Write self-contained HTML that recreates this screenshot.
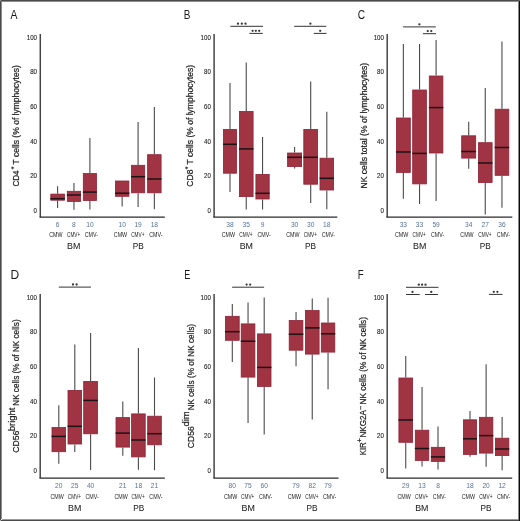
<!DOCTYPE html>
<html><head><meta charset="utf-8"><style>
html,body{margin:0;padding:0;background:#fff;}
body{width:520px;height:521px;overflow:hidden;}
svg{display:block;font-family:"Liberation Sans", sans-serif;will-change:transform;}
</style></head><body>
<svg width="520" height="521" viewBox="0 0 520 521">
<rect x="0" y="0" width="520" height="521" fill="#fff"/>
<text transform="translate(10.44 18.5) scale(0.867 1)" font-size="12" fill="#1a1a1a">A</text>
<path d="M40.3 34V217.2" fill="none" stroke="#454545" stroke-width="1.5"/>
<path d="M39.55 217.2H164.8" fill="none" stroke="#2a2a2a" stroke-width="1.3"/>
<text x="37" y="39.55" font-size="8" text-anchor="end" textLength="10.21" lengthAdjust="spacingAndGlyphs" fill="#222222" stroke="#222222" stroke-width="0.12">100</text>
<text x="37" y="74.21" font-size="8" text-anchor="end" textLength="6.81" lengthAdjust="spacingAndGlyphs" fill="#222222" stroke="#222222" stroke-width="0.12">80</text>
<text x="37" y="108.87" font-size="8" text-anchor="end" textLength="6.81" lengthAdjust="spacingAndGlyphs" fill="#222222" stroke="#222222" stroke-width="0.12">60</text>
<text x="37" y="143.53" font-size="8" text-anchor="end" textLength="6.81" lengthAdjust="spacingAndGlyphs" fill="#222222" stroke="#222222" stroke-width="0.12">40</text>
<text x="37" y="178.19" font-size="8" text-anchor="end" textLength="6.81" lengthAdjust="spacingAndGlyphs" fill="#222222" stroke="#222222" stroke-width="0.12">20</text>
<text x="37" y="212.85" font-size="8" text-anchor="end" textLength="3.4" lengthAdjust="spacingAndGlyphs" fill="#222222" stroke="#222222" stroke-width="0.12">0</text>
<line x1="57.6" y1="186.3" x2="57.6" y2="193.7" stroke="#4a4a4a" stroke-width="1.1"/>
<line x1="57.6" y1="200.6" x2="57.6" y2="207.9" stroke="#4a4a4a" stroke-width="1.1"/>
<rect x="50.8" y="194.1" width="13.6" height="6.1" fill="#a03443" stroke="#8e2236" stroke-width="0.8"/>
<line x1="50.4" y1="198.7" x2="64.8" y2="198.7" stroke="#1e1214" stroke-width="1.5"/>
<text x="57.6" y="226.8" font-size="8" text-anchor="middle" textLength="3.69" lengthAdjust="spacingAndGlyphs" fill="#56709c">6</text>
<text x="55.9" y="236.6" font-size="6.6" text-anchor="middle" textLength="13.3" lengthAdjust="spacingAndGlyphs" fill="#222222">CMW</text>
<line x1="73.95" y1="183" x2="73.95" y2="190.9" stroke="#4a4a4a" stroke-width="1.1"/>
<line x1="73.95" y1="201.8" x2="73.95" y2="209.8" stroke="#4a4a4a" stroke-width="1.1"/>
<rect x="67.3" y="191.3" width="13.3" height="10.1" fill="#a03443" stroke="#8e2236" stroke-width="0.8"/>
<line x1="66.9" y1="195" x2="81" y2="195" stroke="#1e1214" stroke-width="1.5"/>
<text x="73.95" y="226.8" font-size="8" text-anchor="middle" textLength="3.69" lengthAdjust="spacingAndGlyphs" fill="#56709c">8</text>
<text x="73.65" y="236.6" font-size="6.6" text-anchor="middle" textLength="13.3" lengthAdjust="spacingAndGlyphs" fill="#222222">CMV+</text>
<line x1="89.9" y1="138" x2="89.9" y2="173.1" stroke="#4a4a4a" stroke-width="1.1"/>
<line x1="89.9" y1="200.9" x2="89.9" y2="209.5" stroke="#4a4a4a" stroke-width="1.1"/>
<rect x="83.3" y="173.5" width="13.2" height="27" fill="#a03443" stroke="#8e2236" stroke-width="0.8"/>
<line x1="82.9" y1="192.1" x2="96.9" y2="192.1" stroke="#1e1214" stroke-width="1.5"/>
<text x="89.9" y="226.8" font-size="8" text-anchor="middle" textLength="7.38" lengthAdjust="spacingAndGlyphs" fill="#56709c">10</text>
<text x="91.4" y="236.6" font-size="6.6" text-anchor="middle" textLength="13.3" lengthAdjust="spacingAndGlyphs" fill="#222222">CMV-</text>
<line x1="122.15" y1="196.7" x2="122.15" y2="206.4" stroke="#4a4a4a" stroke-width="1.1"/>
<rect x="115.4" y="181" width="13.5" height="15.3" fill="#a03443" stroke="#8e2236" stroke-width="0.8"/>
<line x1="115" y1="193.2" x2="129.3" y2="193.2" stroke="#1e1214" stroke-width="1.5"/>
<text x="122.15" y="226.8" font-size="8" text-anchor="middle" textLength="7.38" lengthAdjust="spacingAndGlyphs" fill="#56709c">10</text>
<text x="120.45" y="236.6" font-size="6.6" text-anchor="middle" textLength="13.3" lengthAdjust="spacingAndGlyphs" fill="#222222">CMW</text>
<line x1="138.1" y1="121.9" x2="138.1" y2="164.9" stroke="#4a4a4a" stroke-width="1.1"/>
<line x1="138.1" y1="193.2" x2="138.1" y2="207" stroke="#4a4a4a" stroke-width="1.1"/>
<rect x="131.5" y="165.3" width="13.2" height="27.5" fill="#a03443" stroke="#8e2236" stroke-width="0.8"/>
<line x1="131.1" y1="176.7" x2="145.1" y2="176.7" stroke="#1e1214" stroke-width="1.5"/>
<text x="138.1" y="226.8" font-size="8" text-anchor="middle" textLength="7.38" lengthAdjust="spacingAndGlyphs" fill="#56709c">19</text>
<text x="137.8" y="236.6" font-size="6.6" text-anchor="middle" textLength="13.3" lengthAdjust="spacingAndGlyphs" fill="#222222">CMV+</text>
<line x1="154.35" y1="106.9" x2="154.35" y2="154.3" stroke="#4a4a4a" stroke-width="1.1"/>
<line x1="154.35" y1="193.2" x2="154.35" y2="209.3" stroke="#4a4a4a" stroke-width="1.1"/>
<rect x="147.6" y="154.7" width="13.5" height="38.1" fill="#a03443" stroke="#8e2236" stroke-width="0.8"/>
<line x1="147.2" y1="179" x2="161.5" y2="179" stroke="#1e1214" stroke-width="1.5"/>
<text x="154.35" y="226.8" font-size="8" text-anchor="middle" textLength="7.38" lengthAdjust="spacingAndGlyphs" fill="#56709c">18</text>
<text x="155.85" y="236.6" font-size="6.6" text-anchor="middle" textLength="13.3" lengthAdjust="spacingAndGlyphs" fill="#222222">CMV-</text>
<text x="73.65" y="248.7" font-size="9.2" text-anchor="middle" textLength="13.3" lengthAdjust="spacingAndGlyphs" fill="#222222" stroke="#222222" stroke-width="0.05">BM</text>
<text x="138.25" y="248.7" font-size="9.2" text-anchor="middle" textLength="11.0" lengthAdjust="spacingAndGlyphs" fill="#222222" stroke="#222222" stroke-width="0.05">PB</text>
<text transform="translate(19.3 186.61) rotate(-90)" font-size="8.8" textLength="16.25" lengthAdjust="spacingAndGlyphs" fill="#222222" stroke="#222222" stroke-width="0.22">CD4</text>
<text transform="translate(14.03 169.46) rotate(-90)" font-size="4.6" textLength="3.13" lengthAdjust="spacingAndGlyphs" fill="#222222" stroke="#222222" stroke-width="0.22">+</text>
<text transform="translate(19.3 164.49) rotate(-90)" font-size="8.8" textLength="99.32" lengthAdjust="spacingAndGlyphs" fill="#222222" stroke="#222222" stroke-width="0.22">T cells (% of lymphocytes)</text>
<text transform="translate(183.78 18.5) scale(0.83 1)" font-size="12" fill="#1a1a1a">B</text>
<path d="M214.1 34V217.2" fill="none" stroke="#454545" stroke-width="1.5"/>
<path d="M213.35 217.2H337.3" fill="none" stroke="#2a2a2a" stroke-width="1.3"/>
<text x="210.8" y="39.55" font-size="8" text-anchor="end" textLength="10.21" lengthAdjust="spacingAndGlyphs" fill="#222222" stroke="#222222" stroke-width="0.12">100</text>
<text x="210.8" y="74.21" font-size="8" text-anchor="end" textLength="6.81" lengthAdjust="spacingAndGlyphs" fill="#222222" stroke="#222222" stroke-width="0.12">80</text>
<text x="210.8" y="108.87" font-size="8" text-anchor="end" textLength="6.81" lengthAdjust="spacingAndGlyphs" fill="#222222" stroke="#222222" stroke-width="0.12">60</text>
<text x="210.8" y="143.53" font-size="8" text-anchor="end" textLength="6.81" lengthAdjust="spacingAndGlyphs" fill="#222222" stroke="#222222" stroke-width="0.12">40</text>
<text x="210.8" y="178.19" font-size="8" text-anchor="end" textLength="6.81" lengthAdjust="spacingAndGlyphs" fill="#222222" stroke="#222222" stroke-width="0.12">20</text>
<text x="210.8" y="212.85" font-size="8" text-anchor="end" textLength="3.4" lengthAdjust="spacingAndGlyphs" fill="#222222" stroke="#222222" stroke-width="0.12">0</text>
<line x1="230" y1="83" x2="230" y2="129" stroke="#4a4a4a" stroke-width="1.1"/>
<line x1="230" y1="173.6" x2="230" y2="192.1" stroke="#4a4a4a" stroke-width="1.1"/>
<rect x="223.4" y="129.4" width="13.2" height="43.8" fill="#a03443" stroke="#8e2236" stroke-width="0.8"/>
<line x1="223" y1="144.3" x2="237" y2="144.3" stroke="#1e1214" stroke-width="1.5"/>
<text x="230" y="226.8" font-size="8" text-anchor="middle" textLength="7.38" lengthAdjust="spacingAndGlyphs" fill="#56709c">38</text>
<text x="228.3" y="236.6" font-size="6.6" text-anchor="middle" textLength="13.3" lengthAdjust="spacingAndGlyphs" fill="#222222">CMW</text>
<line x1="246.25" y1="62.5" x2="246.25" y2="111" stroke="#4a4a4a" stroke-width="1.1"/>
<line x1="246.25" y1="197" x2="246.25" y2="209.6" stroke="#4a4a4a" stroke-width="1.1"/>
<rect x="239.4" y="111.4" width="13.7" height="85.2" fill="#a03443" stroke="#8e2236" stroke-width="0.8"/>
<line x1="239" y1="148.9" x2="253.5" y2="148.9" stroke="#1e1214" stroke-width="1.5"/>
<text x="246.25" y="226.8" font-size="8" text-anchor="middle" textLength="7.38" lengthAdjust="spacingAndGlyphs" fill="#56709c">35</text>
<text x="245.95" y="236.6" font-size="6.6" text-anchor="middle" textLength="13.3" lengthAdjust="spacingAndGlyphs" fill="#222222">CMV+</text>
<line x1="262.55" y1="136.9" x2="262.55" y2="174" stroke="#4a4a4a" stroke-width="1.1"/>
<line x1="262.55" y1="199.4" x2="262.55" y2="209.6" stroke="#4a4a4a" stroke-width="1.1"/>
<rect x="255.9" y="174.4" width="13.3" height="24.6" fill="#a03443" stroke="#8e2236" stroke-width="0.8"/>
<line x1="255.5" y1="193.3" x2="269.6" y2="193.3" stroke="#1e1214" stroke-width="1.5"/>
<text x="262.55" y="226.8" font-size="8" text-anchor="middle" textLength="3.69" lengthAdjust="spacingAndGlyphs" fill="#56709c">9</text>
<text x="264.05" y="236.6" font-size="6.6" text-anchor="middle" textLength="13.3" lengthAdjust="spacingAndGlyphs" fill="#222222">CMV-</text>
<line x1="294.6" y1="146.9" x2="294.6" y2="152.6" stroke="#4a4a4a" stroke-width="1.1"/>
<line x1="294.6" y1="167" x2="294.6" y2="168.5" stroke="#4a4a4a" stroke-width="1.1"/>
<rect x="287.6" y="153" width="14" height="13.6" fill="#a03443" stroke="#8e2236" stroke-width="0.8"/>
<line x1="287.2" y1="157.3" x2="302" y2="157.3" stroke="#1e1214" stroke-width="1.5"/>
<text x="294.6" y="226.8" font-size="8" text-anchor="middle" textLength="7.38" lengthAdjust="spacingAndGlyphs" fill="#56709c">30</text>
<text x="292.9" y="236.6" font-size="6.6" text-anchor="middle" textLength="13.3" lengthAdjust="spacingAndGlyphs" fill="#222222">CMW</text>
<line x1="310.7" y1="81.5" x2="310.7" y2="129" stroke="#4a4a4a" stroke-width="1.1"/>
<line x1="310.7" y1="184.6" x2="310.7" y2="202.9" stroke="#4a4a4a" stroke-width="1.1"/>
<rect x="303.8" y="129.4" width="13.8" height="54.8" fill="#a03443" stroke="#8e2236" stroke-width="0.8"/>
<line x1="303.4" y1="157.3" x2="318" y2="157.3" stroke="#1e1214" stroke-width="1.5"/>
<text x="310.7" y="226.8" font-size="8" text-anchor="middle" textLength="7.38" lengthAdjust="spacingAndGlyphs" fill="#56709c">30</text>
<text x="310.4" y="236.6" font-size="6.6" text-anchor="middle" textLength="13.3" lengthAdjust="spacingAndGlyphs" fill="#222222">CMV+</text>
<line x1="326.8" y1="111.7" x2="326.8" y2="157.8" stroke="#4a4a4a" stroke-width="1.1"/>
<line x1="326.8" y1="190.4" x2="326.8" y2="209.2" stroke="#4a4a4a" stroke-width="1.1"/>
<rect x="320" y="158.2" width="13.6" height="31.8" fill="#a03443" stroke="#8e2236" stroke-width="0.8"/>
<line x1="319.6" y1="178.3" x2="334" y2="178.3" stroke="#1e1214" stroke-width="1.5"/>
<text x="326.8" y="226.8" font-size="8" text-anchor="middle" textLength="7.38" lengthAdjust="spacingAndGlyphs" fill="#56709c">18</text>
<text x="328.3" y="236.6" font-size="6.6" text-anchor="middle" textLength="13.3" lengthAdjust="spacingAndGlyphs" fill="#222222">CMV-</text>
<text x="246.3" y="248.7" font-size="9.2" text-anchor="middle" textLength="13.3" lengthAdjust="spacingAndGlyphs" fill="#222222" stroke="#222222" stroke-width="0.05">BM</text>
<text x="310.6" y="248.7" font-size="9.2" text-anchor="middle" textLength="11.0" lengthAdjust="spacingAndGlyphs" fill="#222222" stroke="#222222" stroke-width="0.05">PB</text>
<line x1="230.3" y1="26.3" x2="263" y2="26.3" stroke="#333" stroke-width="1"/>
<circle cx="238" cy="23.7" r="1.15" fill="#3a3a3a"/>
<circle cx="241.8" cy="23.7" r="1.15" fill="#3a3a3a"/>
<circle cx="245.5" cy="23.7" r="1.15" fill="#3a3a3a"/>
<line x1="249.4" y1="33.4" x2="262.8" y2="33.4" stroke="#333" stroke-width="1"/>
<circle cx="252.6" cy="30.8" r="1.15" fill="#3a3a3a"/>
<circle cx="255.8" cy="30.8" r="1.15" fill="#3a3a3a"/>
<circle cx="259.2" cy="30.8" r="1.15" fill="#3a3a3a"/>
<line x1="294.2" y1="26.3" x2="326.3" y2="26.3" stroke="#333" stroke-width="1"/>
<circle cx="310.4" cy="23.7" r="1.15" fill="#3a3a3a"/>
<line x1="313.8" y1="33.4" x2="326.5" y2="33.4" stroke="#333" stroke-width="1"/>
<circle cx="320.2" cy="30.8" r="1.15" fill="#3a3a3a"/>
<text transform="translate(192.7 186.63) rotate(-90)" font-size="8.8" textLength="17.11" lengthAdjust="spacingAndGlyphs" fill="#222222" stroke="#222222" stroke-width="0.22">CD8</text>
<text transform="translate(187.73 169.56) rotate(-90)" font-size="4.6" textLength="3.13" lengthAdjust="spacingAndGlyphs" fill="#222222" stroke="#222222" stroke-width="0.22">+</text>
<text transform="translate(192.7 164.49) rotate(-90)" font-size="8.8" textLength="99.52" lengthAdjust="spacingAndGlyphs" fill="#222222" stroke="#222222" stroke-width="0.22">T cells (% of lymphocytes)</text>
<text transform="translate(357.63 18.5) scale(0.849 1)" font-size="12" fill="#1a1a1a">C</text>
<path d="M387.2 34V217.2" fill="none" stroke="#454545" stroke-width="1.5"/>
<path d="M386.45 217.2H512.3" fill="none" stroke="#2a2a2a" stroke-width="1.3"/>
<text x="383.9" y="39.55" font-size="8" text-anchor="end" textLength="10.21" lengthAdjust="spacingAndGlyphs" fill="#222222" stroke="#222222" stroke-width="0.12">100</text>
<text x="383.9" y="74.21" font-size="8" text-anchor="end" textLength="6.81" lengthAdjust="spacingAndGlyphs" fill="#222222" stroke="#222222" stroke-width="0.12">80</text>
<text x="383.9" y="108.87" font-size="8" text-anchor="end" textLength="6.81" lengthAdjust="spacingAndGlyphs" fill="#222222" stroke="#222222" stroke-width="0.12">60</text>
<text x="383.9" y="143.53" font-size="8" text-anchor="end" textLength="6.81" lengthAdjust="spacingAndGlyphs" fill="#222222" stroke="#222222" stroke-width="0.12">40</text>
<text x="383.9" y="178.19" font-size="8" text-anchor="end" textLength="6.81" lengthAdjust="spacingAndGlyphs" fill="#222222" stroke="#222222" stroke-width="0.12">20</text>
<text x="383.9" y="212.85" font-size="8" text-anchor="end" textLength="3.4" lengthAdjust="spacingAndGlyphs" fill="#222222" stroke="#222222" stroke-width="0.12">0</text>
<line x1="403.35" y1="44" x2="403.35" y2="117.6" stroke="#4a4a4a" stroke-width="1.1"/>
<line x1="403.35" y1="172.8" x2="403.35" y2="198.7" stroke="#4a4a4a" stroke-width="1.1"/>
<rect x="396.4" y="118" width="13.9" height="54.4" fill="#a03443" stroke="#8e2236" stroke-width="0.8"/>
<line x1="396" y1="152" x2="410.7" y2="152" stroke="#1e1214" stroke-width="1.5"/>
<text x="403.35" y="226.8" font-size="8" text-anchor="middle" textLength="7.38" lengthAdjust="spacingAndGlyphs" fill="#56709c">33</text>
<text x="401.65" y="236.6" font-size="6.6" text-anchor="middle" textLength="13.3" lengthAdjust="spacingAndGlyphs" fill="#222222">CMW</text>
<line x1="419.55" y1="44" x2="419.55" y2="89.6" stroke="#4a4a4a" stroke-width="1.1"/>
<line x1="419.55" y1="184.3" x2="419.55" y2="203.9" stroke="#4a4a4a" stroke-width="1.1"/>
<rect x="412.7" y="90" width="13.7" height="93.9" fill="#a03443" stroke="#8e2236" stroke-width="0.8"/>
<line x1="412.3" y1="153.4" x2="426.8" y2="153.4" stroke="#1e1214" stroke-width="1.5"/>
<text x="419.55" y="226.8" font-size="8" text-anchor="middle" textLength="7.38" lengthAdjust="spacingAndGlyphs" fill="#56709c">33</text>
<text x="419.25" y="236.6" font-size="6.6" text-anchor="middle" textLength="13.3" lengthAdjust="spacingAndGlyphs" fill="#222222">CMV+</text>
<line x1="436.1" y1="40" x2="436.1" y2="75.6" stroke="#4a4a4a" stroke-width="1.1"/>
<line x1="436.1" y1="153.4" x2="436.1" y2="201" stroke="#4a4a4a" stroke-width="1.1"/>
<rect x="429.3" y="76" width="13.6" height="77" fill="#a03443" stroke="#8e2236" stroke-width="0.8"/>
<line x1="428.9" y1="107.6" x2="443.3" y2="107.6" stroke="#1e1214" stroke-width="1.5"/>
<text x="436.1" y="226.8" font-size="8" text-anchor="middle" textLength="7.38" lengthAdjust="spacingAndGlyphs" fill="#56709c">59</text>
<text x="437.6" y="236.6" font-size="6.6" text-anchor="middle" textLength="13.3" lengthAdjust="spacingAndGlyphs" fill="#222222">CMV-</text>
<line x1="468.7" y1="121.7" x2="468.7" y2="135.4" stroke="#4a4a4a" stroke-width="1.1"/>
<line x1="468.7" y1="158.5" x2="468.7" y2="168.7" stroke="#4a4a4a" stroke-width="1.1"/>
<rect x="461.7" y="135.8" width="14" height="22.3" fill="#a03443" stroke="#8e2236" stroke-width="0.8"/>
<line x1="461.3" y1="151.5" x2="476.1" y2="151.5" stroke="#1e1214" stroke-width="1.5"/>
<text x="468.7" y="226.8" font-size="8" text-anchor="middle" textLength="7.38" lengthAdjust="spacingAndGlyphs" fill="#56709c">34</text>
<text x="467" y="236.6" font-size="6.6" text-anchor="middle" textLength="13.3" lengthAdjust="spacingAndGlyphs" fill="#222222">CMW</text>
<line x1="485.25" y1="88" x2="485.25" y2="142.3" stroke="#4a4a4a" stroke-width="1.1"/>
<line x1="485.25" y1="182.9" x2="485.25" y2="214.4" stroke="#4a4a4a" stroke-width="1.1"/>
<rect x="478.4" y="142.7" width="13.7" height="39.8" fill="#a03443" stroke="#8e2236" stroke-width="0.8"/>
<line x1="478" y1="163" x2="492.5" y2="163" stroke="#1e1214" stroke-width="1.5"/>
<text x="485.25" y="226.8" font-size="8" text-anchor="middle" textLength="7.38" lengthAdjust="spacingAndGlyphs" fill="#56709c">27</text>
<text x="484.95" y="236.6" font-size="6.6" text-anchor="middle" textLength="13.3" lengthAdjust="spacingAndGlyphs" fill="#222222">CMV+</text>
<line x1="501.95" y1="41.4" x2="501.95" y2="108.8" stroke="#4a4a4a" stroke-width="1.1"/>
<line x1="501.95" y1="175.7" x2="501.95" y2="207.7" stroke="#4a4a4a" stroke-width="1.1"/>
<rect x="495.1" y="109.2" width="13.7" height="66.1" fill="#a03443" stroke="#8e2236" stroke-width="0.8"/>
<line x1="494.7" y1="147.5" x2="509.2" y2="147.5" stroke="#1e1214" stroke-width="1.5"/>
<text x="501.95" y="226.8" font-size="8" text-anchor="middle" textLength="7.38" lengthAdjust="spacingAndGlyphs" fill="#56709c">36</text>
<text x="503.45" y="236.6" font-size="6.6" text-anchor="middle" textLength="13.3" lengthAdjust="spacingAndGlyphs" fill="#222222">CMV-</text>
<text x="419.65" y="248.7" font-size="9.2" text-anchor="middle" textLength="13.3" lengthAdjust="spacingAndGlyphs" fill="#222222" stroke="#222222" stroke-width="0.05">BM</text>
<text x="485.25" y="248.7" font-size="9.2" text-anchor="middle" textLength="11.0" lengthAdjust="spacingAndGlyphs" fill="#222222" stroke="#222222" stroke-width="0.05">PB</text>
<line x1="403.1" y1="26.9" x2="435.8" y2="26.9" stroke="#333" stroke-width="1"/>
<circle cx="419.4" cy="24.3" r="1.15" fill="#3a3a3a"/>
<line x1="422.9" y1="33.7" x2="436" y2="33.7" stroke="#333" stroke-width="1"/>
<circle cx="427.75" cy="31.1" r="1.15" fill="#3a3a3a"/>
<circle cx="431.25" cy="31.1" r="1.15" fill="#3a3a3a"/>
<text transform="translate(366.6 188.51) rotate(-90)" font-size="8.8" textLength="125.64" lengthAdjust="spacingAndGlyphs" fill="#222222" stroke="#222222" stroke-width="0.22">NK cells total (% of lymphocytes)</text>
<text transform="translate(10.4 278.5) scale(1.0 1)" font-size="12" fill="#1a1a1a">D</text>
<path d="M40.2 294V478.1" fill="none" stroke="#454545" stroke-width="1.5"/>
<path d="M39.45 478.1H164.8" fill="none" stroke="#2a2a2a" stroke-width="1.3"/>
<text x="36.9" y="299.55" font-size="8" text-anchor="end" textLength="10.21" lengthAdjust="spacingAndGlyphs" fill="#222222" stroke="#222222" stroke-width="0.12">100</text>
<text x="36.9" y="334.21" font-size="8" text-anchor="end" textLength="6.81" lengthAdjust="spacingAndGlyphs" fill="#222222" stroke="#222222" stroke-width="0.12">80</text>
<text x="36.9" y="368.87" font-size="8" text-anchor="end" textLength="6.81" lengthAdjust="spacingAndGlyphs" fill="#222222" stroke="#222222" stroke-width="0.12">60</text>
<text x="36.9" y="403.53" font-size="8" text-anchor="end" textLength="6.81" lengthAdjust="spacingAndGlyphs" fill="#222222" stroke="#222222" stroke-width="0.12">40</text>
<text x="36.9" y="438.19" font-size="8" text-anchor="end" textLength="6.81" lengthAdjust="spacingAndGlyphs" fill="#222222" stroke="#222222" stroke-width="0.12">20</text>
<text x="36.9" y="472.85" font-size="8" text-anchor="end" textLength="3.4" lengthAdjust="spacingAndGlyphs" fill="#222222" stroke="#222222" stroke-width="0.12">0</text>
<line x1="58.8" y1="405.3" x2="58.8" y2="427.1" stroke="#4a4a4a" stroke-width="1.1"/>
<line x1="58.8" y1="452.1" x2="58.8" y2="463.7" stroke="#4a4a4a" stroke-width="1.1"/>
<rect x="52" y="427.5" width="13.6" height="24.2" fill="#a03443" stroke="#8e2236" stroke-width="0.8"/>
<line x1="51.6" y1="436.4" x2="66" y2="436.4" stroke="#1e1214" stroke-width="1.5"/>
<text x="58.8" y="487.6" font-size="8" text-anchor="middle" textLength="7.38" lengthAdjust="spacingAndGlyphs" fill="#56709c">20</text>
<text x="57.1" y="498.8" font-size="6.6" text-anchor="middle" textLength="13.3" lengthAdjust="spacingAndGlyphs" fill="#222222">CMW</text>
<line x1="74.8" y1="344.6" x2="74.8" y2="390" stroke="#4a4a4a" stroke-width="1.1"/>
<line x1="74.8" y1="444.4" x2="74.8" y2="452.1" stroke="#4a4a4a" stroke-width="1.1"/>
<rect x="68" y="390.4" width="13.6" height="53.6" fill="#a03443" stroke="#8e2236" stroke-width="0.8"/>
<line x1="67.6" y1="426.3" x2="82" y2="426.3" stroke="#1e1214" stroke-width="1.5"/>
<text x="74.8" y="487.6" font-size="8" text-anchor="middle" textLength="7.38" lengthAdjust="spacingAndGlyphs" fill="#56709c">25</text>
<text x="74.5" y="498.8" font-size="6.6" text-anchor="middle" textLength="13.3" lengthAdjust="spacingAndGlyphs" fill="#222222">CMV+</text>
<line x1="90.6" y1="333.1" x2="90.6" y2="381" stroke="#4a4a4a" stroke-width="1.1"/>
<line x1="90.6" y1="434.2" x2="90.6" y2="469.9" stroke="#4a4a4a" stroke-width="1.1"/>
<rect x="83.7" y="381.4" width="13.8" height="52.4" fill="#a03443" stroke="#8e2236" stroke-width="0.8"/>
<line x1="83.3" y1="400.4" x2="97.9" y2="400.4" stroke="#1e1214" stroke-width="1.5"/>
<text x="90.6" y="487.6" font-size="8" text-anchor="middle" textLength="7.38" lengthAdjust="spacingAndGlyphs" fill="#56709c">40</text>
<text x="92.1" y="498.8" font-size="6.6" text-anchor="middle" textLength="13.3" lengthAdjust="spacingAndGlyphs" fill="#222222">CMV-</text>
<line x1="122.8" y1="401.4" x2="122.8" y2="417.2" stroke="#4a4a4a" stroke-width="1.1"/>
<line x1="122.8" y1="447.5" x2="122.8" y2="455.8" stroke="#4a4a4a" stroke-width="1.1"/>
<rect x="116" y="417.6" width="13.6" height="29.5" fill="#a03443" stroke="#8e2236" stroke-width="0.8"/>
<line x1="115.6" y1="433.1" x2="130" y2="433.1" stroke="#1e1214" stroke-width="1.5"/>
<text x="122.8" y="487.6" font-size="8" text-anchor="middle" textLength="7.38" lengthAdjust="spacingAndGlyphs" fill="#56709c">21</text>
<text x="121.1" y="498.8" font-size="6.6" text-anchor="middle" textLength="13.3" lengthAdjust="spacingAndGlyphs" fill="#222222">CMW</text>
<line x1="138.4" y1="348.1" x2="138.4" y2="413.5" stroke="#4a4a4a" stroke-width="1.1"/>
<line x1="138.4" y1="457.3" x2="138.4" y2="469.7" stroke="#4a4a4a" stroke-width="1.1"/>
<rect x="131.6" y="413.9" width="13.6" height="43" fill="#a03443" stroke="#8e2236" stroke-width="0.8"/>
<line x1="131.2" y1="440" x2="145.6" y2="440" stroke="#1e1214" stroke-width="1.5"/>
<text x="138.4" y="487.6" font-size="8" text-anchor="middle" textLength="7.38" lengthAdjust="spacingAndGlyphs" fill="#56709c">18</text>
<text x="138.1" y="498.8" font-size="6.6" text-anchor="middle" textLength="13.3" lengthAdjust="spacingAndGlyphs" fill="#222222">CMV+</text>
<line x1="154.5" y1="377.5" x2="154.5" y2="415.8" stroke="#4a4a4a" stroke-width="1.1"/>
<line x1="154.5" y1="445.2" x2="154.5" y2="470.2" stroke="#4a4a4a" stroke-width="1.1"/>
<rect x="147.7" y="416.2" width="13.6" height="28.6" fill="#a03443" stroke="#8e2236" stroke-width="0.8"/>
<line x1="147.3" y1="433.7" x2="161.7" y2="433.7" stroke="#1e1214" stroke-width="1.5"/>
<text x="154.5" y="487.6" font-size="8" text-anchor="middle" textLength="7.38" lengthAdjust="spacingAndGlyphs" fill="#56709c">21</text>
<text x="156" y="498.8" font-size="6.6" text-anchor="middle" textLength="13.3" lengthAdjust="spacingAndGlyphs" fill="#222222">CMV-</text>
<text x="74.75" y="510.9" font-size="9.2" text-anchor="middle" textLength="13.3" lengthAdjust="spacingAndGlyphs" fill="#222222" stroke="#222222" stroke-width="0.05">BM</text>
<text x="138.65" y="510.9" font-size="9.2" text-anchor="middle" textLength="11.0" lengthAdjust="spacingAndGlyphs" fill="#222222" stroke="#222222" stroke-width="0.05">PB</text>
<line x1="58.8" y1="287.1" x2="90.9" y2="287.1" stroke="#333" stroke-width="1"/>
<circle cx="73" cy="284.5" r="1.15" fill="#3a3a3a"/>
<circle cx="76.6" cy="284.5" r="1.15" fill="#3a3a3a"/>
<text transform="translate(19.3 452.74) rotate(-90)" font-size="8.8" textLength="22.12" lengthAdjust="spacingAndGlyphs" fill="#222222" stroke="#222222" stroke-width="0.22">CD56</text>
<text transform="translate(15.4 431.31) rotate(-90)" font-size="8.8" textLength="23.78" lengthAdjust="spacingAndGlyphs" fill="#222222" stroke="#222222" stroke-width="0.22">bright</text>
<text transform="translate(19.3 405.77) rotate(-90)" font-size="8.8" textLength="86.38" lengthAdjust="spacingAndGlyphs" fill="#222222" stroke="#222222" stroke-width="0.22">NK cells (% of NK cells)</text>
<text transform="translate(184.16 278.5) scale(0.753 1)" font-size="12" fill="#1a1a1a">E</text>
<path d="M214.1 294V478.1" fill="none" stroke="#454545" stroke-width="1.5"/>
<path d="M213.35 478.1H338.5" fill="none" stroke="#2a2a2a" stroke-width="1.3"/>
<text x="210.8" y="299.55" font-size="8" text-anchor="end" textLength="10.21" lengthAdjust="spacingAndGlyphs" fill="#222222" stroke="#222222" stroke-width="0.12">100</text>
<text x="210.8" y="334.21" font-size="8" text-anchor="end" textLength="6.81" lengthAdjust="spacingAndGlyphs" fill="#222222" stroke="#222222" stroke-width="0.12">80</text>
<text x="210.8" y="368.87" font-size="8" text-anchor="end" textLength="6.81" lengthAdjust="spacingAndGlyphs" fill="#222222" stroke="#222222" stroke-width="0.12">60</text>
<text x="210.8" y="403.53" font-size="8" text-anchor="end" textLength="6.81" lengthAdjust="spacingAndGlyphs" fill="#222222" stroke="#222222" stroke-width="0.12">40</text>
<text x="210.8" y="438.19" font-size="8" text-anchor="end" textLength="6.81" lengthAdjust="spacingAndGlyphs" fill="#222222" stroke="#222222" stroke-width="0.12">20</text>
<text x="210.8" y="472.85" font-size="8" text-anchor="end" textLength="3.4" lengthAdjust="spacingAndGlyphs" fill="#222222" stroke="#222222" stroke-width="0.12">0</text>
<line x1="232.3" y1="304" x2="232.3" y2="315.9" stroke="#4a4a4a" stroke-width="1.1"/>
<line x1="232.3" y1="340.7" x2="232.3" y2="362" stroke="#4a4a4a" stroke-width="1.1"/>
<rect x="225.4" y="316.3" width="13.8" height="24" fill="#a03443" stroke="#8e2236" stroke-width="0.8"/>
<line x1="225" y1="331.7" x2="239.6" y2="331.7" stroke="#1e1214" stroke-width="1.5"/>
<text x="232.3" y="487.6" font-size="8" text-anchor="middle" textLength="7.38" lengthAdjust="spacingAndGlyphs" fill="#56709c">80</text>
<text x="230.6" y="498.8" font-size="6.6" text-anchor="middle" textLength="13.3" lengthAdjust="spacingAndGlyphs" fill="#222222">CMW</text>
<line x1="248.05" y1="302.6" x2="248.05" y2="323.5" stroke="#4a4a4a" stroke-width="1.1"/>
<line x1="248.05" y1="377.5" x2="248.05" y2="422.9" stroke="#4a4a4a" stroke-width="1.1"/>
<rect x="241.2" y="323.9" width="13.7" height="53.2" fill="#a03443" stroke="#8e2236" stroke-width="0.8"/>
<line x1="240.8" y1="341.2" x2="255.3" y2="341.2" stroke="#1e1214" stroke-width="1.5"/>
<text x="248.05" y="487.6" font-size="8" text-anchor="middle" textLength="7.38" lengthAdjust="spacingAndGlyphs" fill="#56709c">75</text>
<text x="247.75" y="498.8" font-size="6.6" text-anchor="middle" textLength="13.3" lengthAdjust="spacingAndGlyphs" fill="#222222">CMV+</text>
<line x1="264.2" y1="297.5" x2="264.2" y2="333.5" stroke="#4a4a4a" stroke-width="1.1"/>
<line x1="264.2" y1="386.8" x2="264.2" y2="434.5" stroke="#4a4a4a" stroke-width="1.1"/>
<rect x="257.4" y="333.9" width="13.6" height="52.5" fill="#a03443" stroke="#8e2236" stroke-width="0.8"/>
<line x1="257" y1="367.4" x2="271.4" y2="367.4" stroke="#1e1214" stroke-width="1.5"/>
<text x="264.2" y="487.6" font-size="8" text-anchor="middle" textLength="7.38" lengthAdjust="spacingAndGlyphs" fill="#56709c">60</text>
<text x="265.7" y="498.8" font-size="6.6" text-anchor="middle" textLength="13.3" lengthAdjust="spacingAndGlyphs" fill="#222222">CMV-</text>
<line x1="296.05" y1="312" x2="296.05" y2="320.1" stroke="#4a4a4a" stroke-width="1.1"/>
<line x1="296.05" y1="350.6" x2="296.05" y2="366.3" stroke="#4a4a4a" stroke-width="1.1"/>
<rect x="289.2" y="320.5" width="13.7" height="29.7" fill="#a03443" stroke="#8e2236" stroke-width="0.8"/>
<line x1="288.8" y1="334.2" x2="303.3" y2="334.2" stroke="#1e1214" stroke-width="1.5"/>
<text x="296.05" y="487.6" font-size="8" text-anchor="middle" textLength="7.38" lengthAdjust="spacingAndGlyphs" fill="#56709c">79</text>
<text x="294.35" y="498.8" font-size="6.6" text-anchor="middle" textLength="13.3" lengthAdjust="spacingAndGlyphs" fill="#222222">CMW</text>
<line x1="312.25" y1="298.4" x2="312.25" y2="310.1" stroke="#4a4a4a" stroke-width="1.1"/>
<line x1="312.25" y1="354.5" x2="312.25" y2="419.6" stroke="#4a4a4a" stroke-width="1.1"/>
<rect x="305.4" y="310.5" width="13.7" height="43.6" fill="#a03443" stroke="#8e2236" stroke-width="0.8"/>
<line x1="305" y1="327.9" x2="319.5" y2="327.9" stroke="#1e1214" stroke-width="1.5"/>
<text x="312.25" y="487.6" font-size="8" text-anchor="middle" textLength="7.38" lengthAdjust="spacingAndGlyphs" fill="#56709c">82</text>
<text x="311.95" y="498.8" font-size="6.6" text-anchor="middle" textLength="13.3" lengthAdjust="spacingAndGlyphs" fill="#222222">CMV+</text>
<line x1="328.05" y1="297.7" x2="328.05" y2="322.6" stroke="#4a4a4a" stroke-width="1.1"/>
<line x1="328.05" y1="352.5" x2="328.05" y2="389.3" stroke="#4a4a4a" stroke-width="1.1"/>
<rect x="321.3" y="323" width="13.5" height="29.1" fill="#a03443" stroke="#8e2236" stroke-width="0.8"/>
<line x1="320.9" y1="333.8" x2="335.2" y2="333.8" stroke="#1e1214" stroke-width="1.5"/>
<text x="328.05" y="487.6" font-size="8" text-anchor="middle" textLength="7.38" lengthAdjust="spacingAndGlyphs" fill="#56709c">79</text>
<text x="329.55" y="498.8" font-size="6.6" text-anchor="middle" textLength="13.3" lengthAdjust="spacingAndGlyphs" fill="#222222">CMV-</text>
<text x="248.2" y="510.9" font-size="9.2" text-anchor="middle" textLength="13.3" lengthAdjust="spacingAndGlyphs" fill="#222222" stroke="#222222" stroke-width="0.05">BM</text>
<text x="312" y="510.9" font-size="9.2" text-anchor="middle" textLength="11.0" lengthAdjust="spacingAndGlyphs" fill="#222222" stroke="#222222" stroke-width="0.05">PB</text>
<line x1="232.1" y1="287.2" x2="264.1" y2="287.2" stroke="#333" stroke-width="1"/>
<circle cx="246.6" cy="284.6" r="1.15" fill="#3a3a3a"/>
<circle cx="250.2" cy="284.6" r="1.15" fill="#3a3a3a"/>
<text transform="translate(193.5 448.13) rotate(-90)" font-size="8.8" textLength="21.81" lengthAdjust="spacingAndGlyphs" fill="#222222" stroke="#222222" stroke-width="0.22">CD56</text>
<text transform="translate(189.2 426.5) rotate(-90)" font-size="8.8" textLength="15.22" lengthAdjust="spacingAndGlyphs" fill="#222222" stroke="#222222" stroke-width="0.22">dim</text>
<text transform="translate(193.5 410.37) rotate(-90)" font-size="8.8" textLength="86.38" lengthAdjust="spacingAndGlyphs" fill="#222222" stroke="#222222" stroke-width="0.22">NK cells (% of NK cells)</text>
<text transform="translate(357.71 278.5) scale(0.8 1)" font-size="12" fill="#1a1a1a">F</text>
<path d="M387.2 294V478.1" fill="none" stroke="#454545" stroke-width="1.5"/>
<path d="M386.45 478.1H512.2" fill="none" stroke="#2a2a2a" stroke-width="1.3"/>
<text x="383.9" y="299.55" font-size="8" text-anchor="end" textLength="10.21" lengthAdjust="spacingAndGlyphs" fill="#222222" stroke="#222222" stroke-width="0.12">100</text>
<text x="383.9" y="334.21" font-size="8" text-anchor="end" textLength="6.81" lengthAdjust="spacingAndGlyphs" fill="#222222" stroke="#222222" stroke-width="0.12">80</text>
<text x="383.9" y="368.87" font-size="8" text-anchor="end" textLength="6.81" lengthAdjust="spacingAndGlyphs" fill="#222222" stroke="#222222" stroke-width="0.12">60</text>
<text x="383.9" y="403.53" font-size="8" text-anchor="end" textLength="6.81" lengthAdjust="spacingAndGlyphs" fill="#222222" stroke="#222222" stroke-width="0.12">40</text>
<text x="383.9" y="438.19" font-size="8" text-anchor="end" textLength="6.81" lengthAdjust="spacingAndGlyphs" fill="#222222" stroke="#222222" stroke-width="0.12">20</text>
<text x="383.9" y="472.85" font-size="8" text-anchor="end" textLength="3.4" lengthAdjust="spacingAndGlyphs" fill="#222222" stroke="#222222" stroke-width="0.12">0</text>
<line x1="405.75" y1="356.1" x2="405.75" y2="377.6" stroke="#4a4a4a" stroke-width="1.1"/>
<line x1="405.75" y1="442.7" x2="405.75" y2="468.4" stroke="#4a4a4a" stroke-width="1.1"/>
<rect x="398.9" y="378" width="13.7" height="64.3" fill="#a03443" stroke="#8e2236" stroke-width="0.8"/>
<line x1="398.5" y1="420" x2="413" y2="420" stroke="#1e1214" stroke-width="1.5"/>
<text x="405.75" y="487.6" font-size="8" text-anchor="middle" textLength="7.38" lengthAdjust="spacingAndGlyphs" fill="#56709c">29</text>
<text x="404.05" y="498.8" font-size="6.6" text-anchor="middle" textLength="13.3" lengthAdjust="spacingAndGlyphs" fill="#222222">CMW</text>
<line x1="422.05" y1="387" x2="422.05" y2="429.8" stroke="#4a4a4a" stroke-width="1.1"/>
<line x1="422.05" y1="460.8" x2="422.05" y2="466.6" stroke="#4a4a4a" stroke-width="1.1"/>
<rect x="415.3" y="430.2" width="13.5" height="30.2" fill="#a03443" stroke="#8e2236" stroke-width="0.8"/>
<line x1="414.9" y1="448.5" x2="429.2" y2="448.5" stroke="#1e1214" stroke-width="1.5"/>
<text x="422.05" y="487.6" font-size="8" text-anchor="middle" textLength="7.38" lengthAdjust="spacingAndGlyphs" fill="#56709c">13</text>
<text x="421.75" y="498.8" font-size="6.6" text-anchor="middle" textLength="13.3" lengthAdjust="spacingAndGlyphs" fill="#222222">CMV+</text>
<line x1="438" y1="426.6" x2="438" y2="446.9" stroke="#4a4a4a" stroke-width="1.1"/>
<line x1="438" y1="461.8" x2="438" y2="469.6" stroke="#4a4a4a" stroke-width="1.1"/>
<rect x="431.3" y="447.3" width="13.4" height="14.1" fill="#a03443" stroke="#8e2236" stroke-width="0.8"/>
<line x1="430.9" y1="456.9" x2="445.1" y2="456.9" stroke="#1e1214" stroke-width="1.5"/>
<text x="438" y="487.6" font-size="8" text-anchor="middle" textLength="3.69" lengthAdjust="spacingAndGlyphs" fill="#56709c">8</text>
<text x="439.5" y="498.8" font-size="6.6" text-anchor="middle" textLength="13.3" lengthAdjust="spacingAndGlyphs" fill="#222222">CMV-</text>
<line x1="470" y1="411.1" x2="470" y2="419.4" stroke="#4a4a4a" stroke-width="1.1"/>
<line x1="470" y1="454.8" x2="470" y2="456.8" stroke="#4a4a4a" stroke-width="1.1"/>
<rect x="463.4" y="419.8" width="13.2" height="34.6" fill="#a03443" stroke="#8e2236" stroke-width="0.8"/>
<line x1="463" y1="438.8" x2="477" y2="438.8" stroke="#1e1214" stroke-width="1.5"/>
<text x="470" y="487.6" font-size="8" text-anchor="middle" textLength="7.38" lengthAdjust="spacingAndGlyphs" fill="#56709c">18</text>
<text x="468.3" y="498.8" font-size="6.6" text-anchor="middle" textLength="13.3" lengthAdjust="spacingAndGlyphs" fill="#222222">CMW</text>
<line x1="486.12" y1="364.2" x2="486.12" y2="416.9" stroke="#4a4a4a" stroke-width="1.1"/>
<line x1="486.12" y1="453.5" x2="486.12" y2="466.8" stroke="#4a4a4a" stroke-width="1.1"/>
<rect x="479.4" y="417.3" width="13.45" height="35.8" fill="#a03443" stroke="#8e2236" stroke-width="0.8"/>
<line x1="479" y1="435.6" x2="493.25" y2="435.6" stroke="#1e1214" stroke-width="1.5"/>
<text x="486.12" y="487.6" font-size="8" text-anchor="middle" textLength="7.38" lengthAdjust="spacingAndGlyphs" fill="#56709c">20</text>
<text x="485.82" y="498.8" font-size="6.6" text-anchor="middle" textLength="13.3" lengthAdjust="spacingAndGlyphs" fill="#222222">CMV+</text>
<line x1="502.12" y1="416.9" x2="502.12" y2="437.8" stroke="#4a4a4a" stroke-width="1.1"/>
<line x1="502.12" y1="456" x2="502.12" y2="470.3" stroke="#4a4a4a" stroke-width="1.1"/>
<rect x="495.4" y="438.2" width="13.45" height="17.4" fill="#a03443" stroke="#8e2236" stroke-width="0.8"/>
<line x1="495" y1="449" x2="509.25" y2="449" stroke="#1e1214" stroke-width="1.5"/>
<text x="502.12" y="487.6" font-size="8" text-anchor="middle" textLength="7.38" lengthAdjust="spacingAndGlyphs" fill="#56709c">12</text>
<text x="503.62" y="498.8" font-size="6.6" text-anchor="middle" textLength="13.3" lengthAdjust="spacingAndGlyphs" fill="#222222">CMV-</text>
<text x="421.8" y="510.9" font-size="9.2" text-anchor="middle" textLength="13.3" lengthAdjust="spacingAndGlyphs" fill="#222222" stroke="#222222" stroke-width="0.05">BM</text>
<text x="486.12" y="510.9" font-size="9.2" text-anchor="middle" textLength="11.0" lengthAdjust="spacingAndGlyphs" fill="#222222" stroke="#222222" stroke-width="0.05">PB</text>
<line x1="406" y1="287.3" x2="438.5" y2="287.3" stroke="#333" stroke-width="1"/>
<circle cx="418.8" cy="284.7" r="1.15" fill="#3a3a3a"/>
<circle cx="422.1" cy="284.7" r="1.15" fill="#3a3a3a"/>
<circle cx="425.5" cy="284.7" r="1.15" fill="#3a3a3a"/>
<line x1="406" y1="294.5" x2="419.7" y2="294.5" stroke="#333" stroke-width="1"/>
<circle cx="412.5" cy="291.9" r="1.15" fill="#3a3a3a"/>
<line x1="425" y1="294.5" x2="438" y2="294.5" stroke="#333" stroke-width="1"/>
<circle cx="431.25" cy="291.9" r="1.15" fill="#3a3a3a"/>
<line x1="489" y1="294.4" x2="502.5" y2="294.4" stroke="#333" stroke-width="1"/>
<circle cx="493.8" cy="291.8" r="1.15" fill="#3a3a3a"/>
<circle cx="497.4" cy="291.8" r="1.15" fill="#3a3a3a"/>
<text transform="translate(366.3 455.24) rotate(-90)" font-size="8.8" textLength="13" lengthAdjust="spacingAndGlyphs" fill="#222222" stroke="#222222" stroke-width="0.22">KIR</text>
<text transform="translate(362.46 442.57) rotate(-90)" font-size="6.5" textLength="4.45" lengthAdjust="spacingAndGlyphs" fill="#222222" stroke="#222222" stroke-width="0.22">+</text>
<text transform="translate(366.3 437.56) rotate(-90)" font-size="8.8" textLength="27.38" lengthAdjust="spacingAndGlyphs" fill="#222222" stroke="#222222" stroke-width="0.22">NKG2A</text>
<text transform="translate(363.46 409.67) rotate(-90)" font-size="6.5" textLength="4.33" lengthAdjust="spacingAndGlyphs" fill="#222222" stroke="#222222" stroke-width="0.22">−</text>
<text transform="translate(366.3 404.48) rotate(-90)" font-size="8.8" textLength="87.39" lengthAdjust="spacingAndGlyphs" fill="#222222" stroke="#222222" stroke-width="0.22">NK cells (% of NK cells)</text>
<g shape-rendering="crispEdges">
<rect x="0" y="1" width="1" height="519" fill="#4b4b4b"/>
<rect x="1" y="1" width="1" height="518" fill="#8c8c8c"/>
<rect x="1" y="0" width="518" height="1" fill="#4b4b4b"/>
<rect x="2" y="1" width="516" height="1" fill="#8c8c8c"/>
<rect x="1" y="520" width="518" height="1" fill="#4b4b4b"/>
<rect x="2" y="519" width="516" height="1" fill="#9a9a9a"/>
<rect x="519" y="1" width="1" height="520" fill="#0c0c0c"/>
<rect x="518" y="1" width="1" height="519" fill="#8a8a8a"/>
<rect x="0" y="0" width="1" height="1" fill="#999"/>
<rect x="519" y="0" width="1" height="1" fill="#777"/>
<rect x="0" y="520" width="1" height="1" fill="#aaa"/>
</g>
</svg>
</body></html>
